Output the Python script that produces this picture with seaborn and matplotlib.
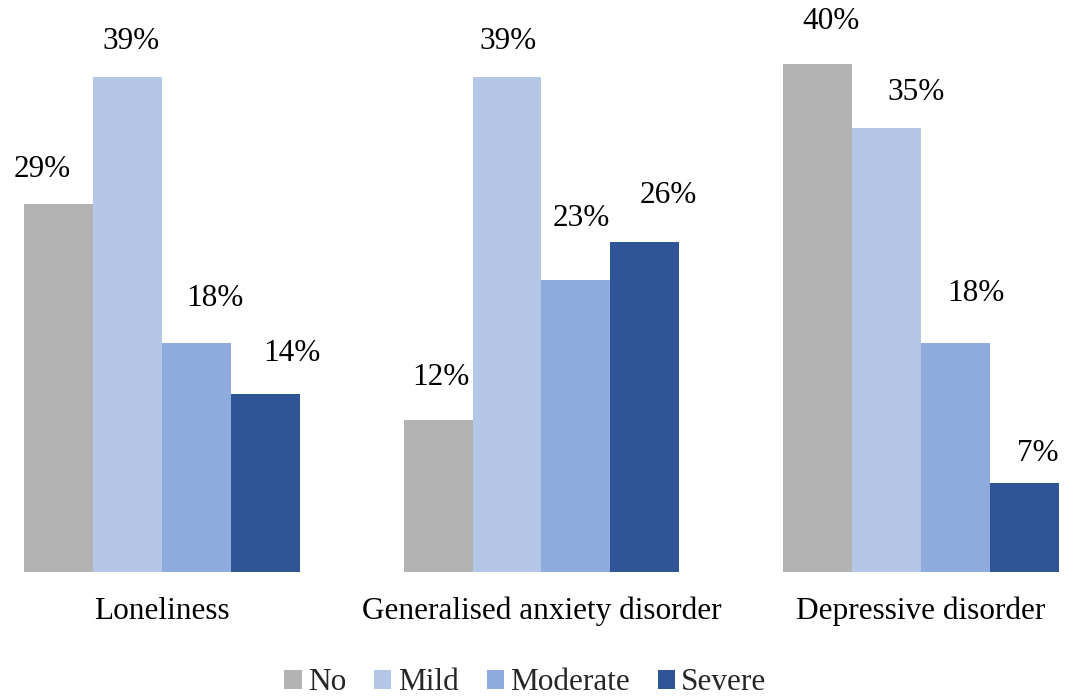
import matplotlib
matplotlib.use("Agg")
import matplotlib.pyplot as plt
import seaborn as sns
import pandas as pd
from matplotlib.patches import Patch

# Share of respondents by severity level for each condition (%)
conditions = ["Loneliness", "Generalised anxiety disorder", "Depressive disorder"]
levels = ["No", "Mild", "Moderate", "Severe"]
no_vals = [29, 12, 40]
mild_vals = [39, 39, 35]
moderate_vals = [18, 23, 18]
severe_vals = [14, 26, 7]

colors = ["#b3b3b3", "#b4c7e7", "#8faadc", "#2f5597"]

# Hand-placed offsets (pixels) of each value label from its bar's top centre
label_nudges = {
    "No":       [(-17, 34), (3, 42), (14, 43)],
    "Mild":     [(3, 35), (1, 35), (30, 35)],
    "Moderate": [(18, 45), (5, 61), (21, 50)],
    "Severe":   [(26, 41), (23, 46), (14, 30)],
}

series = {"No": no_vals, "Mild": mild_vals, "Moderate": moderate_vals, "Severe": severe_vals}
df = pd.DataFrame(
    [(c, lvl, series[lvl][i]) for lvl in levels for i, c in enumerate(conditions)],
    columns=["condition", "level", "pct"],
)

sns.set_theme(style="white")
plt.rcParams["font.family"] = ["Liberation Serif", "DejaVu Serif"]

fig = plt.figure(figsize=(10.91, 6.96), dpi=100)
ax = fig.add_axes([7 / 1091, 124 / 696, 1069 / 1091, 571.5 / 696])

sns.barplot(
    data=df, x="condition", y="pct", hue="level",
    order=conditions, hue_order=levels, palette=colors,
    width=0.728, gap=0, saturation=1, linewidth=0, ax=ax, legend=False,
)

ax.set_xlim(-0.41, 2.41)
ax.set_ylim(0, 45)
ax.set_xlabel("")
ax.set_ylabel("")
ax.set_yticks([])
ax.tick_params(axis="x", length=0, pad=18, labelsize=22.5, labelcolor="black")
for s in ax.spines.values():
    s.set_visible(False)

# Value labels
for lvl, container in zip(levels, ax.containers):
    for bar, val, (dx, dy) in zip(container, series[lvl], label_nudges[lvl]):
        ax.annotate(
            f"{val}%",
            xy=(bar.get_x() + bar.get_width() / 2, bar.get_height()),
            xytext=(dx, dy), textcoords="offset pixels",
            ha="center", va="center", fontsize=22.5, color="black",
        )

handles = [Patch(facecolor=c, edgecolor="none", label=l) for c, l in zip(colors, levels)]
fig.legend(
    handles=handles, loc="center", bbox_to_anchor=(0.5 - 20 / 1091, 13 / 696), ncol=4,
    frameon=False, fontsize=22.5, handlelength=0.55, handleheight=0.55,
    handletextpad=0.2, columnspacing=0.9, borderaxespad=0,
)

fig.savefig("out.png", dpi=100, facecolor="white")
